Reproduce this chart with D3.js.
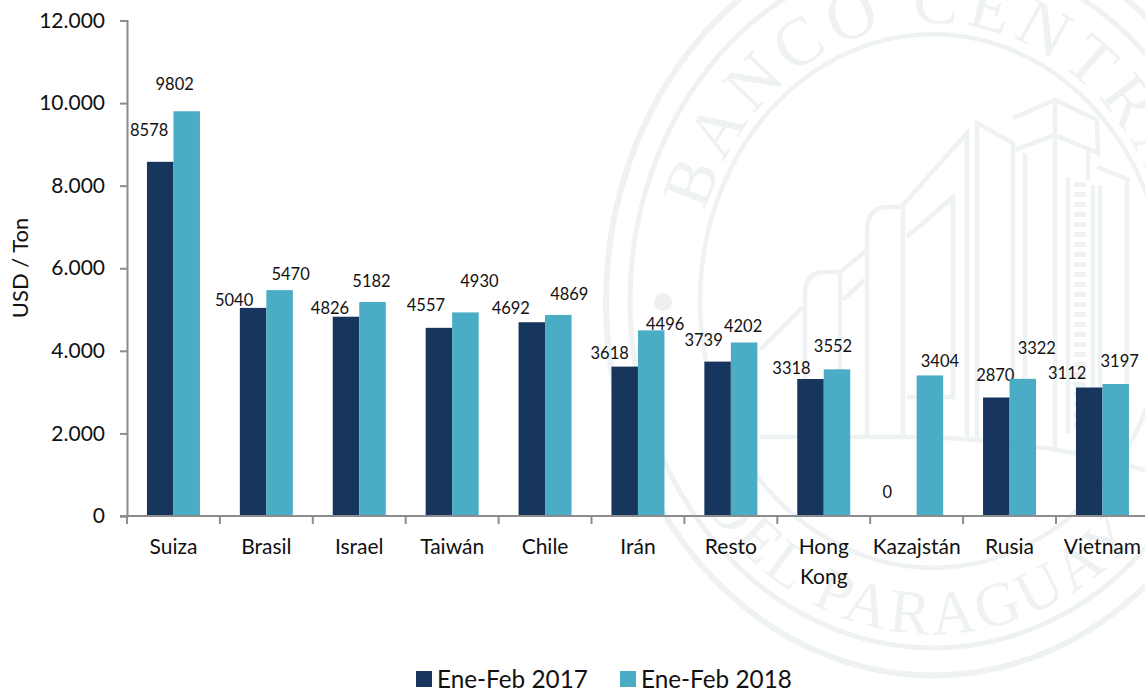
<!DOCTYPE html>
<html><head><meta charset="utf-8">
<script src="https://cdn.jsdelivr.net/npm/d3@7"></script>
<style>html,body{margin:0;padding:0;background:#fff;overflow:hidden}svg{display:block}text{font-family:Lato,"Noto Sans",sans-serif;fill:#111}</style>
</head><body><svg id="c" width="1145" height="689"></svg>
<script>
const categories=["Suiza","Brasil","Israel","Taiwán","Chile","Irán","Resto","Hong Kong","Kazajstán","Rusia","Vietnam"];
const ene2017=[8578,5040,4826,4557,4692,3618,3739,3318,0,2870,3112];
const ene2018=[9802,5470,5182,4930,4869,4496,4202,3552,3404,3322,3197];
const seriesNames=["Ene-Feb 2017","Ene-Feb 2018"];
const yTicks=[0,2000,4000,6000,8000,10000,12000];
const yTitle="USD / Ton";
// manual label nudges seen in the reference, relative to the bar top centre
const nudge2017=[[-11,-32],[-19,-8],[-16,-9],[-13,-23],[-21,-14],[-15,-14],[-14,-22],[-19,-11],[-16,-24],[-1,-22],[-22,-14.5]];
const nudge2018=[[-12,-27],[11,-16],[-1,-21],[14,-31],[11,-21],[14,-6],[-1,-16.5],[-4,-23],[10,-14],[14,-31],[4,-23]];

const svg=d3.select("#c");
const left=127,base=516,top_=20.5,step=92.9;
const x=d3.scaleBand().domain(categories).range([left,left+step*categories.length]).paddingInner(0).paddingOuter(0);
const y=d3.scaleLinear().domain([0,12000]).range([base,top_]);
const barW=26.5;

// watermark seal
const wmColor="#eef2f2";
const wm=svg.append("g").attr("fill","none").attr("stroke",wmColor);
const cx=933,cy=301,k=1.145;
[[327,6],[303,5],[233,4.5]].forEach(([r,w])=>{
  wm.append("ellipse").attr("cx",cx).attr("cy",cy).attr("rx",r).attr("ry",r*k).attr("stroke-width",w);
});
const defs=svg.append("defs");
const ell=(rx,ry,sweep)=>`M${cx-rx},${cy}A${rx},${ry} 0 0 ${sweep} ${cx+rx},${cy}`;
defs.append("path").attr("id","arcTop").attr("d",ell(241,278,1));
defs.append("path").attr("id","arcBot").attr("d",ell(290,333,0));
[["arcTop","BANCO CENTRAL",68,7,"51.5%"],["arcBot","DEL PARAGUAY",62,4,"48%"]].forEach(([id,t,fs,ls,off])=>{
  svg.append("text").style("font-family","'Liberation Serif',serif").style("fill",wmColor).attr("font-size",fs).attr("letter-spacing",ls)
    .append("textPath").attr("href","#"+id).attr("startOffset",off).attr("text-anchor","middle").text(t);
});
const buildings=[
 "M805,437V295Q805,272 825,272H840V437","M760,350L803,307","M840,272L867,250","M843,300L864,280",
 "M867,437V232Q867,207 888,207H903V437","M903,205L967,133V441","M907,237L953,197V397H907",
 "M977,442V123L1013,143V446","M1013,118L1055,100L1097,120L1098,153L1055,135L1015,150","M1055,100V452","M1025,153V448",
 "M1088,150V180","M1097,167L1130,180","M1127,178V467","M1100,185V455",
 "M1068,177V433","M1093,185V433",
 "M760,437H927Q1050,442 1145,470"];
wm.selectAll("path.b").data(buildings).join("path").attr("class","b").attr("d",d=>d).attr("stroke-width",4.5);
wm.append("path").attr("d","M1080,182V430").attr("stroke-width",12).attr("stroke-dasharray","5,5");
svg.append("circle").attr("cx",663).attr("cy",302).attr("r",9).attr("fill","#eef0f0");

// bars
const colors=["#17365d","#4bacc6"];
const g=svg.append("g");
const series=[ene2017,ene2018];
const nudges=[nudge2017,nudge2018];
const barsX=(cat,i)=>x(cat)+x.bandwidth()/2+(i===0?-barW:0);
series.forEach((vals,i)=>{
  g.selectAll("rect.s"+i).data(vals).join("rect").attr("class","s"+i)
   .attr("x",(d,j)=>barsX(categories[j],i)).attr("width",barW)
   .attr("y",d=>y(d)).attr("height",d=>base-y(d)).attr("fill",colors[i]);
  g.selectAll("text.s"+i).data(vals).join("text").attr("class","s"+i)
   .attr("x",(d,j)=>barsX(categories[j],i)+barW/2+nudges[i][j][0])
   .attr("y",(d,j)=>y(d)+nudges[i][j][1]).attr("dy","0.36em")
   .attr("text-anchor","middle").attr("font-size",16.5).text(d=>d);
});

// axes
const fmt=d3.formatLocale({decimal:",",thousands:".",grouping:[3],currency:["",""]}).format(",d");
const ya=svg.append("g").attr("transform",`translate(${left},0)`)
 .call(d3.axisLeft(y).tickValues(yTicks).tickFormat(fmt).tickSize(7).tickPadding(15));
const xa=svg.append("g").attr("transform",`translate(0,${base})`)
 .call(d3.axisBottom(x).tickSize(0).tickPadding(23));
[ya,xa].forEach(a=>{a.selectAll("path.domain").attr("stroke","#8c8c8c").attr("stroke-width",2);
 a.selectAll(".tick line").attr("stroke","#8c8c8c").attr("stroke-width",2);
 a.selectAll("text").attr("font-size",21).style("fill","#111").style("font-family","Lato");});
xa.select("path.domain").attr("d",`M${left-7},0H1145`);
// category boundary ticks
xa.selectAll("line.bound").data(categories).join("line").attr("class","bound")
 .attr("x1",d=>x(d)).attr("x2",d=>x(d)).attr("y1",0).attr("y2",8).attr("stroke","#8c8c8c").attr("stroke-width",2);
// wrap two-word category labels
xa.selectAll(".tick text").each(function(d){
  const words=d.split(" ");if(words.length<2)return;
  const t=d3.select(this);const yy=t.attr("y");t.text(null);
  words.forEach((w,i)=>t.append("tspan").attr("x",0).attr("y",yy).attr("dy",(0.71+i*1.43)+"em").text(w));
});
svg.append("text").attr("transform","translate(20,268) rotate(-90)").attr("text-anchor","middle").attr("dy","0.36em").attr("font-size",22).text(yTitle);

// legend
const legX=[416,620];
seriesNames.forEach((n,i)=>{
  svg.append("rect").attr("x",legX[i]).attr("y",671).attr("width",16).attr("height",16).attr("fill",colors[i]);
  svg.append("text").attr("x",legX[i]+21).attr("y",679).attr("dy","0.36em").attr("font-size",24.3).text(n);
});
</script></body></html>
